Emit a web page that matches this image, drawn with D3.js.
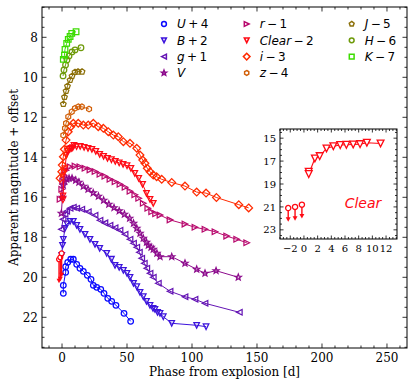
<!DOCTYPE html>
<html><head><meta charset="utf-8">
<script src="https://cdn.jsdelivr.net/npm/d3@7"></script>
<style>body{margin:0;background:#fff}svg{display:block}</style>
</head><body><svg id="c" width="415" height="387"></svg>
<script>
// ---------------- data (phase in days, magnitude + offset as plotted) ----------------
const U_day=[1.0,1.0,2.8,2.8,4.4,6.7,8.7,11.3,13.8,16.4,19.5,22.3,24.1,26.7,29.8,32.3,35.2,38.2,41.5,47.7,52.8];
const U_mag=[20.8,20.4,19.75,19.47,19.25,19.1,19.1,19.35,19.55,19.7,19.9,20.1,20.4,20.5,20.6,20.8,21.05,21.2,21.4,21.8,22.2];

const B_day=[-0.2,0.4,1.0,2.3,3.8,6.2,8.7,11.3,13.8,17.7,21.5,25.4,29.0,34.4,38.0,40.8,44.0,47.2,50.0,52.3,55.0,57.5,60.0,62.5,65.0,67.7,70.0,71.5,73.5,75.4,77.9,84.4,103.6,110.8];
const B_mag=[18.9,18.4,18.1,17.55,17.33,17.2,17.2,17.4,17.6,17.85,18.1,18.35,18.55,18.8,19.1,19.4,19.5,19.65,19.8,20.0,20.3,20.47,20.75,20.97,21.2,21.4,21.55,21.6,21.75,21.8,21.97,22.3,22.4,22.47];

const g_day=[-0.5,0.8,2.3,3.6,6.2,8.7,11.3,15.2,20.2,25.4,29.2,33.0,36.9,40.8,44.6,48.5,52.3,55.0,57.5,59.5,61.3,63.3,65.2,67.7,70.2,74.1,83.1,94.6,102.3,110.0,136.4];
const g_mag=[17.6,17.1,16.85,16.7,16.55,16.5,16.55,16.6,16.72,16.9,17.15,17.28,17.4,17.52,17.65,17.85,18.1,18.3,18.5,18.75,19.05,19.3,19.55,19.8,20.0,20.3,20.7,20.97,21.1,21.3,21.75];

const V_day=[-0.5,0.3,1.0,2.0,3.5,5.4,7.7,10.5,13.0,16.4,20.0,24.0,28.0,32.0,36.0,40.0,44.0,48.0,52.0,55.0,57.5,60.0,62.5,65.0,66.4,68.5,70.2,73.0,75.4,84.4,94.6,103.6,110.0,118.5,135.6];
const V_mag=[16.8,16.0,15.4,15.2,15.1,15.05,15.05,15.15,15.25,15.45,15.6,15.78,15.95,16.15,16.35,16.52,16.68,16.85,17.05,17.3,17.55,17.8,18.05,18.25,18.4,18.5,18.6,18.8,18.97,18.97,19.3,19.6,19.8,19.67,20.0];

const r_day=[-1.5,-0.2,0.5,1.5,3.0,6.2,10.0,13.8,17.7,21.5,25.4,29.2,33.0,36.9,40.8,44.6,48.5,52.3,56.0,59.0,62.5,66.0,69.0,72.0,75.4,83.1,94.6,102.3,110.0,117.7,126.7,134.4,142.1];
const r_mag=[16.1,15.6,15.2,14.9,14.65,14.47,14.44,14.47,14.55,14.63,14.71,14.85,14.95,15.1,15.22,15.35,15.5,15.7,15.87,16.05,16.3,16.55,16.72,16.82,16.89,17.13,17.34,17.5,17.6,17.72,17.94,18.1,18.27];

const Clear_day=[0.7,0.7,1.6,2.3,3.3,4.3,5.3,6.2,7.2,8.2,9.2,11.2,14,17,20,23,26,29,32,35,38,41,44,47,50,53,56,59,62,65,67.7,70.2];
const Clear_mag=[15.93,16.13,14.77,14.57,13.9,13.7,13.6,13.58,13.55,13.52,13.4,13.46,13.45,13.5,13.55,13.6,13.7,13.85,13.95,14.05,14.12,14.2,14.28,14.35,14.42,14.55,14.8,15.05,15.35,15.8,16.1,16.3];
// Clear upper limits (plotted, Clear - 2)
const ClearLim_day=[-2.3,-1.3,-0.3];
const ClearLim_mag=[19.1,19.0,18.8];

const i_day=[-1.5,-0.2,0.2,1.0,1.8,3.1,4.8,6.7,8.7,12.5,16.4,20.2,24.1,27.9,31.8,35.6,39.5,43.3,47.2,52.3,57.5,60.0,62.1,63.8,65.6,67.7,70.2,72.8,76.7,84.4,94.6,103.6,110.8,118.8,136.0,143.6];
const i_mag=[15.05,14.72,14.39,13.97,13.6,13.14,12.72,12.47,12.3,12.3,12.39,12.39,12.3,12.47,12.55,12.72,12.89,12.97,13.22,13.3,13.55,13.89,14.14,14.3,14.55,14.72,14.89,14.97,15.1,15.26,15.44,15.74,15.79,16.01,16.37,16.53];

const z_day=[1.0,2.3,3.1,4.8,7.5,10.0,12.5,15.2,20.8];
const z_mag=[12.9,12.55,12.3,11.97,11.72,11.55,11.47,11.47,11.59];

const J_day=[1.0,1.9,3.1,4.2,6.2,7.7,10.0,12.3,15.4];
const J_mag=[11.34,10.99,10.69,10.44,10.14,9.94,9.74,9.72,9.72];

const H_day=[0.8,1.5,2.7,3.8,5.4,7.7,10.0,14.6];
const H_mag=[9.93,9.63,9.38,9.13,8.93,8.73,8.63,8.52];

const K_day=[1.0,1.9,2.3,3.6,4.8,6.2,7.5,10.8];
const K_mag=[9.1,8.89,8.6,8.3,8.1,7.96,7.8,7.72];

// tick values
const xMajor=[0,50,100,150,200,250];
const yMajor=[8,10,12,14,16,18,20,22];
const insetXMajor=[-2,0,2,4,6,8,10,12];
const insetYMajor=[15,17,19,21,23];
const clearOffset=2;

// ---------------- styling ----------------
const series=[
 {lab:["U","\u2009+\u20094"],d:U_day,m:U_mag,c:"#0a0aff",s:"circle"},
 {lab:["B","\u2009+\u20092"],d:B_day,m:B_mag,c:"#3c14dc",s:"tdown"},
 {lab:["g","\u2009+\u20091"],d:g_day,m:g_mag,c:"#6414b4",s:"tleft"},
 {lab:["V",""],d:V_day,m:V_mag,c:"#8c0a8c",s:"star"},
 {lab:["r","\u2009\u2212\u20091"],d:r_day,m:r_mag,c:"#b80a6e",s:"tright"},
 {lab:["Clear","\u2009\u2212\u20092"],d:Clear_day,m:Clear_mag,c:"#ff0a14",s:"tdown"},
 {lab:["i","\u2009\u2212\u20093"],d:i_day,m:i_mag,c:"#ff2a00",s:"diamond"},
 {lab:["z","\u2009\u2212\u20094"],d:z_day,m:z_mag,c:"#d2600a",s:"hex"},
 {lab:["J","\u2009\u2212\u20095"],d:J_day,m:J_mag,c:"#8c700a",s:"pent"},
 {lab:["H","\u2009\u2212\u20096"],d:H_day,m:H_mag,c:"#6e9a0a",s:"circle"},
 {lab:["K","\u2009\u2212\u20097"],d:K_day,m:K_mag,c:"#3cdc00",s:"square"}
];

function shape(t,s){
  const P=pts=>"M"+pts.map(p=>p[0].toFixed(2)+","+p[1].toFixed(2)).join("L")+"Z";
  const poly=(n,r,rot)=>d3.range(n).map(k=>{const a=rot+k*2*Math.PI/n;return [r*Math.sin(a),-r*Math.cos(a)];});
  switch(t){
    case "circle": return `M${s},0A${s},${s},0,1,1,${-s},0A${s},${s},0,1,1,${s},0Z`;
    case "tdown": return P([[0,s],[-s,-s],[s,-s]]);
    case "tleft": return P([[-s,0],[s,-s],[s,s]]);
    case "tright": return P([[s,0],[-s,-s],[-s,s]]);
    case "diamond": {const q=s*1.38;return P([[0,-q],[q,0],[0,q],[-q,0]]);}
    case "square": return P([[-s,-s],[s,-s],[s,s],[-s,s]]);
    case "pent": return P(poly(5,s*1.05,0));
    case "hex": return P(poly(6,s*1.0,0));
    case "star": {const o=s*1.15,inr=o*0.42;const pts=[];for(let k=0;k<10;k++){const a=k*Math.PI/5;const r=k%2?inr:o;pts.push([r*Math.sin(a),-r*Math.cos(a)]);}return P(pts);}
  }
}

const svg=d3.select("#c");
svg.append("rect").attr("width",415).attr("height",387).attr("fill","#fff");

const L=42,R=407,T=7,Bt=348;
const x=d3.scaleLinear().domain([-15.4,265.4]).range([L,R]);
const y=d3.scaleLinear().domain([6.485,23.535]).range([T,Bt]);

const serif="DejaVu Serif, serif";

function drawFrame(g,xs,ys,xMaj,xMinStep,yMaj,yMinStep,lmaj,lmin,fs,xpad,ypad){
  const [x0,x1]=xs.range(),[y0,y1]=ys.range();
  const [dx0,dx1]=xs.domain(),[dy0,dy1]=ys.domain();
  const tk=g.append("g").attr("stroke","#000").attr("stroke-width",0.8);
  const xmin=d3.range(Math.ceil(dx0/xMinStep)*xMinStep,dx1+1e-9,xMinStep);
  const ymin=d3.range(Math.ceil(Math.min(dy0,dy1)/yMinStep)*yMinStep,Math.max(dy0,dy1)+1e-9,yMinStep);
  xmin.forEach(v=>{const len=xMaj.some(m=>Math.abs(m-v)<1e-6)?lmaj:lmin;const px=xs(v);
    tk.append("line").attr("x1",px).attr("x2",px).attr("y1",y1).attr("y2",y1-len);
    tk.append("line").attr("x1",px).attr("x2",px).attr("y1",y0).attr("y2",y0+len);});
  ymin.forEach(v=>{const len=yMaj.some(m=>Math.abs(m-v)<1e-6)?lmaj:lmin;const py=ys(v);
    tk.append("line").attr("y1",py).attr("y2",py).attr("x1",x0).attr("x2",x0+len);
    tk.append("line").attr("y1",py).attr("y2",py).attr("x1",x1).attr("x2",x1-len);});
  g.append("rect").attr("x",x0).attr("y",y0).attr("width",x1-x0).attr("height",y1-y0)
    .attr("fill","none").attr("stroke","#000").attr("stroke-width",1);
  const fmt=v=>v<0?"\u2212"+Math.abs(v):String(v);
  g.append("g").selectAll("text").data(xMaj).join("text")
    .attr("x",v=>xs(v)).attr("y",y1+xpad).attr("text-anchor","middle")
    .attr("font-family",serif).attr("font-size",fs).text(fmt);
  g.append("g").selectAll("text").data(yMaj).join("text")
    .attr("x",x0-ypad).attr("y",v=>ys(v)+fs*0.36).attr("text-anchor","end")
    .attr("font-family",serif).attr("font-size",fs).text(fmt);
}

const main=svg.append("g");
drawFrame(main,x,y,xMajor,10,yMajor,0.5,4.5,2.5,12,13.5,4);

// axis labels
svg.append("text").attr("x",(L+R)/2).attr("y",376).attr("text-anchor","middle")
  .attr("font-family",serif).attr("font-size",12).text("Phase from explosion [d]");
svg.append("text").attr("transform",`translate(17.5,${(T+Bt)/2}) rotate(-90)`).attr("text-anchor","middle")
  .attr("font-family",serif).attr("font-size",12).text("Apparent magnitude + offset");

// data
const line=d3.line().x(d=>x(d[0])).y(d=>y(d[1]));
const dataG=main.append("g");
function drawLimits(g,xs,ys,days,mags,col,r,ah){
  days.forEach((d,k)=>{
    const px=xs(d),py=ys(mags[k]),pe=ys(mags[k]+1.2);
    g.append("line").attr("x1",px).attr("x2",px).attr("y1",py).attr("y2",pe-ah*0.6).attr("stroke",col).attr("stroke-width",1.4);
    g.append("path").attr("d",`M${px-ah*0.55},${pe-ah}L${px+ah*0.55},${pe-ah}L${px},${pe}Z`).attr("fill",col);
    g.append("path").attr("d",shape("circle",r)).attr("transform",`translate(${px},${py})`)
      .attr("fill","#fff").attr("stroke",col).attr("stroke-width",1.3);
  });
}
series.forEach((s,k)=>{
  const pts=s.d.map((d,j)=>[d,s.m[j]]);
  const g=dataG.append("g");
  if(s.lab[0]==="Clear") drawLimits(g,x,y,ClearLim_day,ClearLim_mag,s.c,2.4,4.5);
  g.append("path").attr("d",line(pts)).attr("fill","none").attr("stroke",s.c).attr("stroke-width",1);
  g.selectAll("path.m").data(pts).join("path").attr("class","m")
    .attr("d",shape(s.s,2.8)).attr("transform",d=>`translate(${x(d[0])},${y(d[1])})`)
    .attr("fill","none").attr("stroke",s.c).attr("stroke-width",1.25);
});

// legend
const colX=[164,246.7,351.7];
const cols=[[0,1,2,3],[4,5,6,7],[8,9,10]];
const rowY=[24,40.3,56.6,72.9];
const lg=svg.append("g");
cols.forEach((col,ci)=>col.forEach((si,ri)=>{
  const s=series[si];
  lg.append("path").attr("d",shape(s.s,2.4)).attr("transform",`translate(${colX[ci]},${rowY[ri]})`)
    .attr("fill","none").attr("stroke",s.c).attr("stroke-width",1.5);
  const t=lg.append("text").attr("x",colX[ci]+13).attr("y",rowY[ri]+4.4)
    .attr("font-family","DejaVu Sans, sans-serif").attr("font-size",12);
  t.append("tspan").attr("font-style","italic").text(s.lab[0]);
  t.append("tspan").text(s.lab[1]);
}));

// inset
const ix=d3.scaleLinear().domain([-3.5,13.6]).range([280,397]);
const iy=d3.scaleLinear().domain([14.2,23.8]).range([129,239]);
const ins=svg.append("g");
ins.append("rect").attr("x",280).attr("y",129).attr("width",117).attr("height",110).attr("fill","#fff");
drawFrame(ins,ix,iy,insetXMajor,0.5,insetYMajor,0.5,3.5,2,10,13,4);
const clr=series[5];
const inPts=Clear_day.map((d,j)=>[d,Clear_mag[j]+clearOffset]).filter(p=>p[0]<=12);
const iline=d3.line().x(d=>ix(d[0])).y(d=>iy(d[1]));
const ig=ins.append("g");
drawLimits(ig,ix,iy,ClearLim_day,ClearLim_mag.map(v=>v+clearOffset),clr.c,2.6,4.5);
ig.append("path").attr("d",iline(inPts)).attr("fill","none").attr("stroke",clr.c).attr("stroke-width",1.1);
ig.selectAll("path.m").data(inPts).join("path").attr("class","m")
  .attr("d",shape("tdown",3.4)).attr("transform",d=>`translate(${ix(d[0])},${iy(d[1])})`)
  .attr("fill","#fff").attr("stroke",clr.c).attr("stroke-width",1.3);
ins.append("text").attr("x",363).attr("y",208).attr("text-anchor","middle")
  .attr("font-family","DejaVu Sans, sans-serif").attr("font-style","italic").attr("font-size",14)
  .attr("fill",clr.c).text("Clear");
</script></body></html>
